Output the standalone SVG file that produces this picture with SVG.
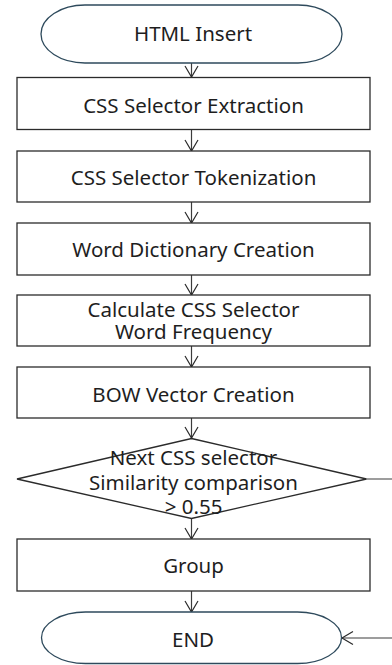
<svg xmlns="http://www.w3.org/2000/svg" width="392" height="665" viewBox="0 0 392 665">
  <style>
    .box { fill: #ffffff; stroke: #2b2b2b; stroke-width: 1.3; }
    .term { fill: #ffffff; stroke: #2e4a5c; stroke-width: 1.3; }
    .lbl { font-family: "Noto Sans", "Open Sans", sans-serif; font-size: 20.5px; fill: #1e1e1e; text-anchor: middle; }
    .edge { fill: none; stroke: #3c3c3c; stroke-width: 1.2; }
  </style>
  <defs>
    <marker id="arrow" markerUnits="userSpaceOnUse" markerWidth="16" markerHeight="16" viewBox="-13 -8 16 16" refX="0" refY="0" orient="auto">
      <path d="M-11,-6.5 L0,0 L-11,6.5" fill="none" stroke="#2b2b2b" stroke-width="1.2"/>
    </marker>
  </defs>
  <rect width="392" height="665" fill="#ffffff"/>

  <!-- flow connectors -->
  <g id="connectors">
    <path class="edge" d="M191.5,63 V77" marker-end="url(#arrow)"/>
    <path class="edge" d="M191.5,129.5 V151" marker-end="url(#arrow)"/>
    <path class="edge" d="M191.5,202 V223" marker-end="url(#arrow)"/>
    <path class="edge" d="M191.5,275 V295" marker-end="url(#arrow)"/>
    <path class="edge" d="M191.5,346 V367" marker-end="url(#arrow)"/>
    <path class="edge" d="M191.5,418 V438" marker-end="url(#arrow)"/>
    <path class="edge" d="M191.5,519 V539" marker-end="url(#arrow)"/>
    <path class="edge" d="M191.5,591 V612" marker-end="url(#arrow)"/>
    <!-- "no" branch: leaves the decision to the right and returns into END -->
    <path class="edge" d="M366.5,479 H410 V638 H342" marker-end="url(#arrow)"/>
  </g>

  <g id="start">
    <rect class="term" x="41" y="5" width="301" height="58" rx="44" ry="29"/>
    <text class="lbl" x="193" y="41">HTML Insert</text>
  </g>

  <g id="extract">
    <rect class="box" x="17" y="77.5" width="353" height="52"/>
    <text class="lbl" x="193.5" y="113">CSS Selector Extraction</text>
  </g>

  <g id="tokenize">
    <rect class="box" x="17" y="151" width="353" height="51"/>
    <text class="lbl" x="193.5" y="185">CSS Selector Tokenization</text>
  </g>

  <g id="dictionary">
    <rect class="box" x="17" y="223" width="353" height="52"/>
    <text class="lbl" x="193.5" y="257">Word Dictionary Creation</text>
  </g>

  <g id="frequency">
    <rect class="box" x="17" y="295" width="353" height="51"/>
    <text class="lbl" x="193.5" y="317">Calculate CSS Selector<tspan x="193.5" dy="21.5">Word Frequency</tspan></text>
  </g>

  <g id="bow">
    <rect class="box" x="17" y="367" width="353" height="51"/>
    <text class="lbl" x="193.5" y="402">BOW Vector Creation</text>
  </g>

  <g id="decision">
    <polygon class="box" points="191.5,438.5 366.5,479 191.5,518.5 17,479"/>
    <text class="lbl" x="193.5" y="465">Next CSS selector<tspan x="193.5" dy="25">Similarity comparison</tspan><tspan x="193.5" dy="23.5">&gt; 0.55</tspan></text>
  </g>

  <g id="group">
    <rect class="box" x="17" y="539" width="353" height="52"/>
    <text class="lbl" x="193.5" y="573">Group</text>
  </g>

  <g id="end">
    <rect class="term" x="41.5" y="612" width="300" height="51.5" rx="44" ry="25.75"/>
    <text class="lbl" x="193" y="647">END</text>
  </g>
</svg>
